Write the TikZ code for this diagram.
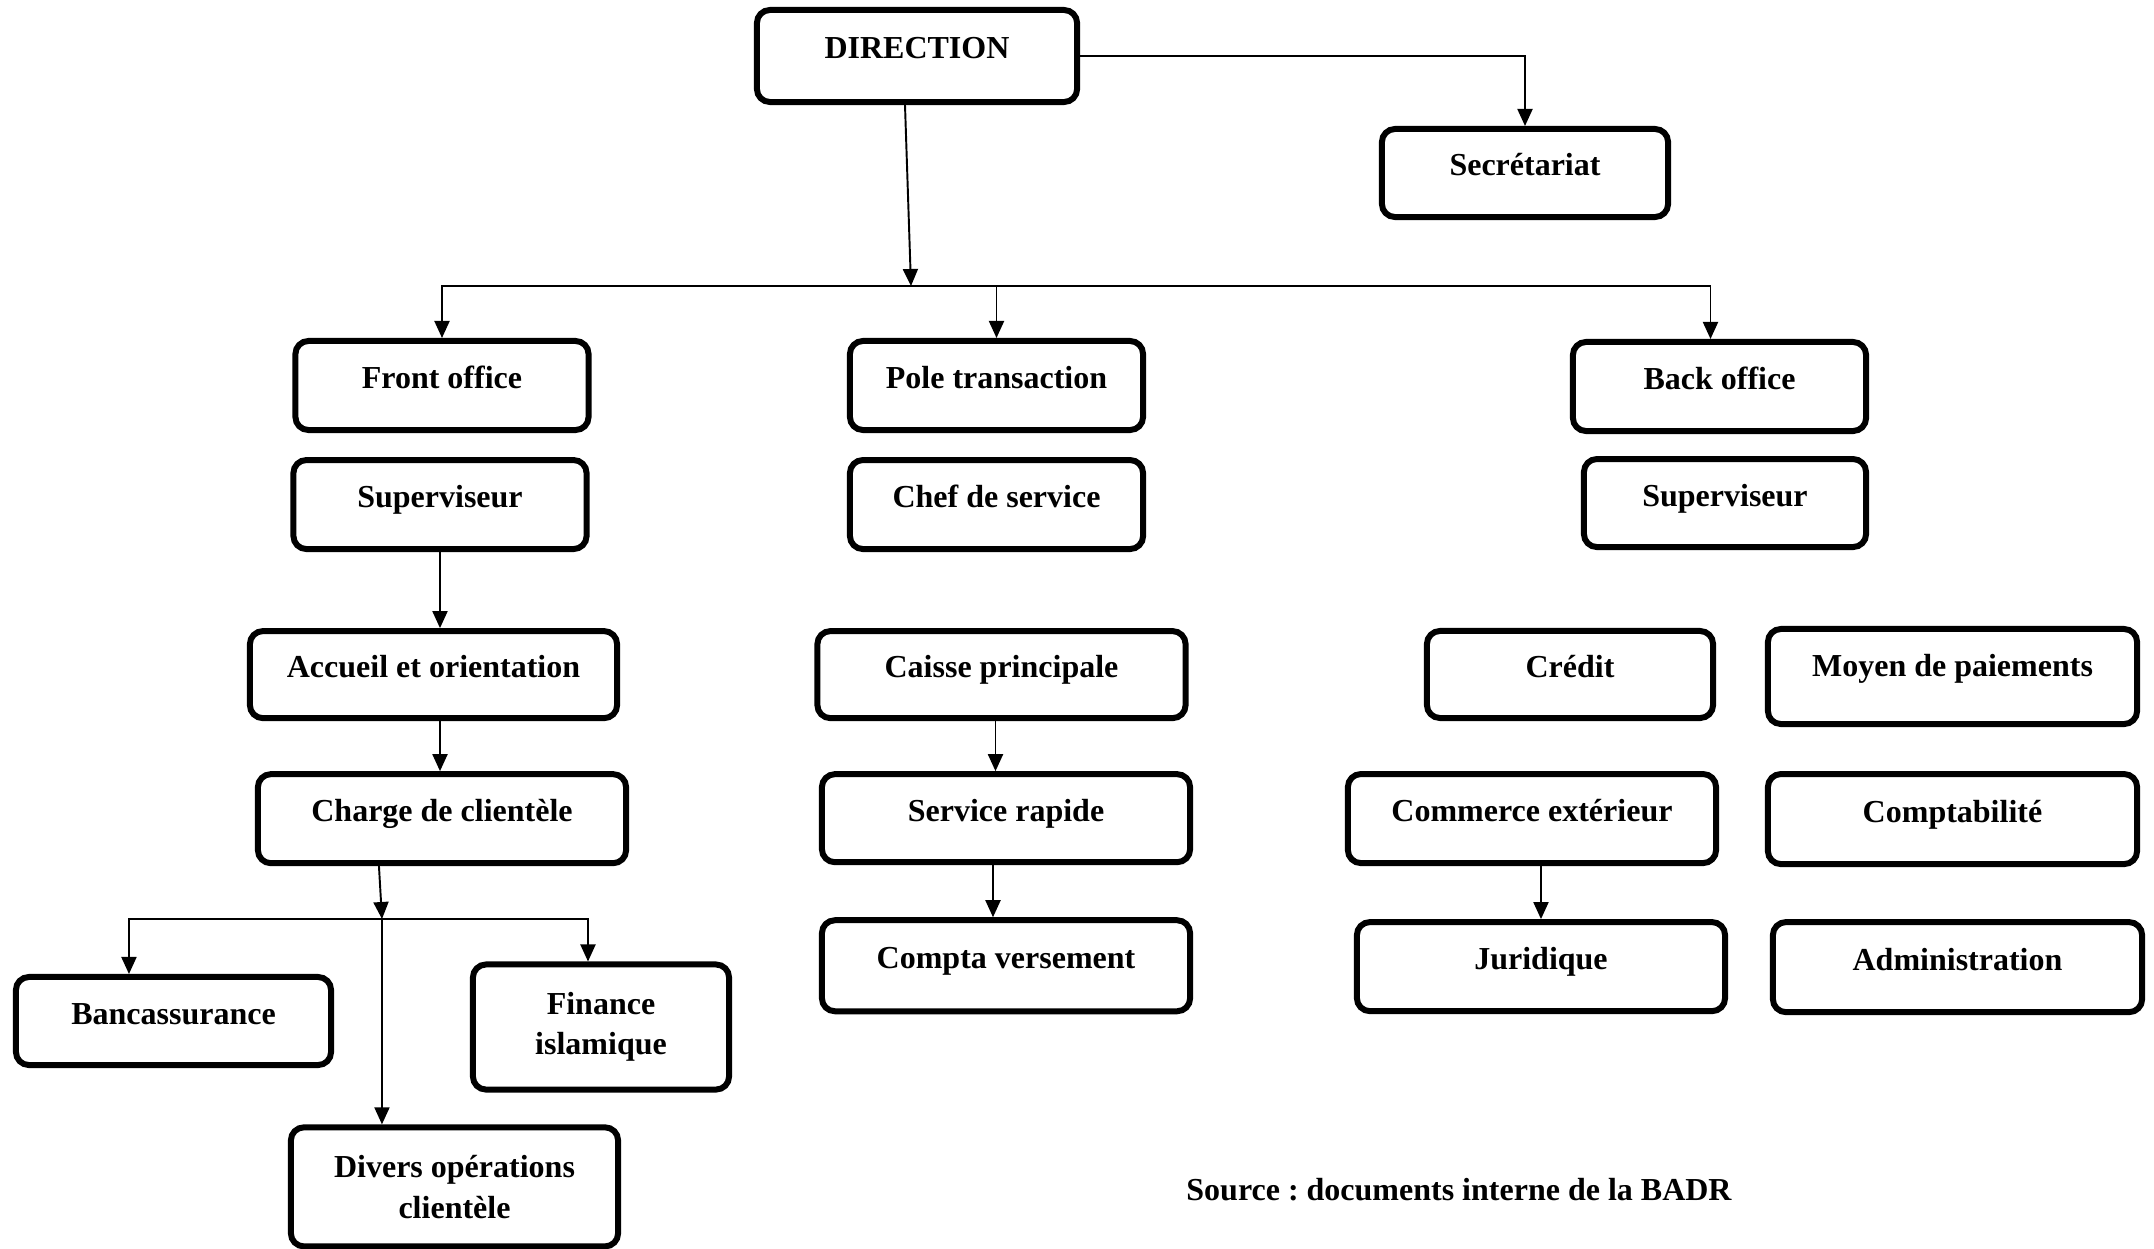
\documentclass[tikz,border=0pt]{standalone}
\usepackage{fontspec}
\setmainfont{Liberation Serif}
\usetikzlibrary{arrows.meta, positioning}
\frenchspacing

\begin{document}
\begin{tikzpicture}[x=0.01cm, y=-0.01cm,
            % Styles
            post/.style={rectangle, draw=black, line width=1.7pt, rounded corners=0.13cm, fill=white, text centered, inner sep=0pt, minimum width=2.93cm, minimum height=0.89cm, font=\bfseries\fontsize{9.1}{11.5}\selectfont, text height=7pt, text depth=5.3pt},
            wide/.style={post, minimum width=3.68cm},
            bigpost/.style={rectangle, draw=black, line width=1.7pt, rounded corners=0.13cm, fill=white, align=center, inner sep=0pt, font=\bfseries\fontsize{9.1}{11.5}\selectfont},
            line/.style={draw, line width=0.55pt, -{Triangle[length=0.17cm, width=0.15cm]}}
        ]
        \useasboundingbox (0,0) rectangle (2154,1248);

        % Top
        \node [post, minimum width=3.2cm, minimum height=0.92cm] (dir) at (917,56) {DIRECTION};
        \node [post, minimum width=2.86cm, minimum height=0.88cm] (sec) at (1525,173) {Secrétariat};

        % Front office
        \node [post] (fo) at (442,385.5) {Front office};
        \node [post, below=0.24cm of fo, xshift=-0.02cm] (sup1) {Superviseur};
        \node [wide, minimum width=3.67cm, minimum height=0.87cm, below=0.76cm of sup1, xshift=-0.065cm] (acc) {Accueil et orientation};
        \node [wide, below=0.5cm of acc, xshift=0.085cm] (cha) {Charge de clientèle};
        \node [post, minimum width=3.15cm, minimum height=0.88cm] (banc) at (173.5,1021) {Bancassurance};
        \node [bigpost, minimum width=2.56cm, minimum height=1.25cm] (fin) at (601,1027) {Finance\\islamique};
        \node [bigpost, minimum width=3.27cm, minimum height=1.19cm, below=2.58cm of cha, xshift=0.125cm] (div) {Divers opérations\\clientèle};

        % Pole transaction
        \node [post] (pt) at (996.5,385.5) {Pole transaction};
        \node [post, below=0.24cm of pt] (chef) {Chef de service};
        \node [wide, minimum height=0.87cm, below=0.76cm of chef, xshift=0.05cm] (caisse) {Caisse principale};
        \node [wide, minimum height=0.88cm, below=0.5cm of caisse, xshift=0.045cm] (serv) {Service rapide};
        \node [wide, minimum height=0.91cm, below=0.52cm of serv] (compta) {Compta versement};

        % Back office
        \node [post] (bo) at (1719.5,386.5) {Back office};
        \node [post, minimum width=2.82cm, minimum height=0.88cm, below=0.22cm of bo, xshift=0.055cm] (sup2) {Superviseur};
        \node [post, minimum width=2.86cm, minimum height=0.87cm] (cred) at (1570,674.5) {Crédit};
        \node [wide, below=0.5cm of cred, xshift=-0.38cm] (comm) {Commerce extérieur};
        \node [wide, below=0.53cm of comm, xshift=0.09cm] (jur) {Juridique};
        \node [wide, minimum width=3.69cm, minimum height=0.95cm, text depth=7pt] (moyen) at (1952.5,676.5) {Moyen de paiements};
        \node [wide, minimum width=3.69cm, minimum height=0.9cm, below=0.44cm of moyen] (compt) {Comptabilité};
        \node [wide, minimum width=3.69cm, minimum height=0.9cm, below=0.52cm of compt, xshift=0.05cm] (admin) {Administration};

        % Source
        \node [font=\bfseries\fontsize{9.1}{11.5}\selectfont] (src) at (1459,1190) {Source : documents interne de la BADR};

        % Edges
        \coordinate (hub) at (911,286);
        \coordinate (fork) at (382,919);
        \path [line] (dir.east) -| (sec.north);
        \path [line] ([xshift=-0.12cm]dir.south) -- (hub);
        \path [line] (hub) -| (fo.north);
        \path [line] (hub) -| ([xshift=-0.09cm]bo.north);
        \path [line] (hub -| pt.north) -- (pt.north);
        \path [line] (sup1.south) -- ([xshift=0.065cm]acc.north);
        \path [line] ([xshift=0.065cm]acc.south) -- ([xshift=-0.02cm]cha.north);
        \path [line] ([xshift=-0.63cm]cha.south) -- (fork);
        \path [line] (fork) -| ([xshift=-0.445cm]banc.north);
        \path [line] (fork) -| ([xshift=-0.13cm]fin.north);
        \path [line] (fork) -- ([xshift=-0.725cm]div.north);
        \path [line] ([xshift=-0.06cm]caisse.south) -- ([xshift=-0.105cm]serv.north);
        \path [line] ([xshift=-0.13cm]serv.south) -- ([xshift=-0.13cm]compta.north);
        \path [line] ([xshift=0.09cm]comm.south) -- (jur.north);

\end{tikzpicture}
\end{document}
